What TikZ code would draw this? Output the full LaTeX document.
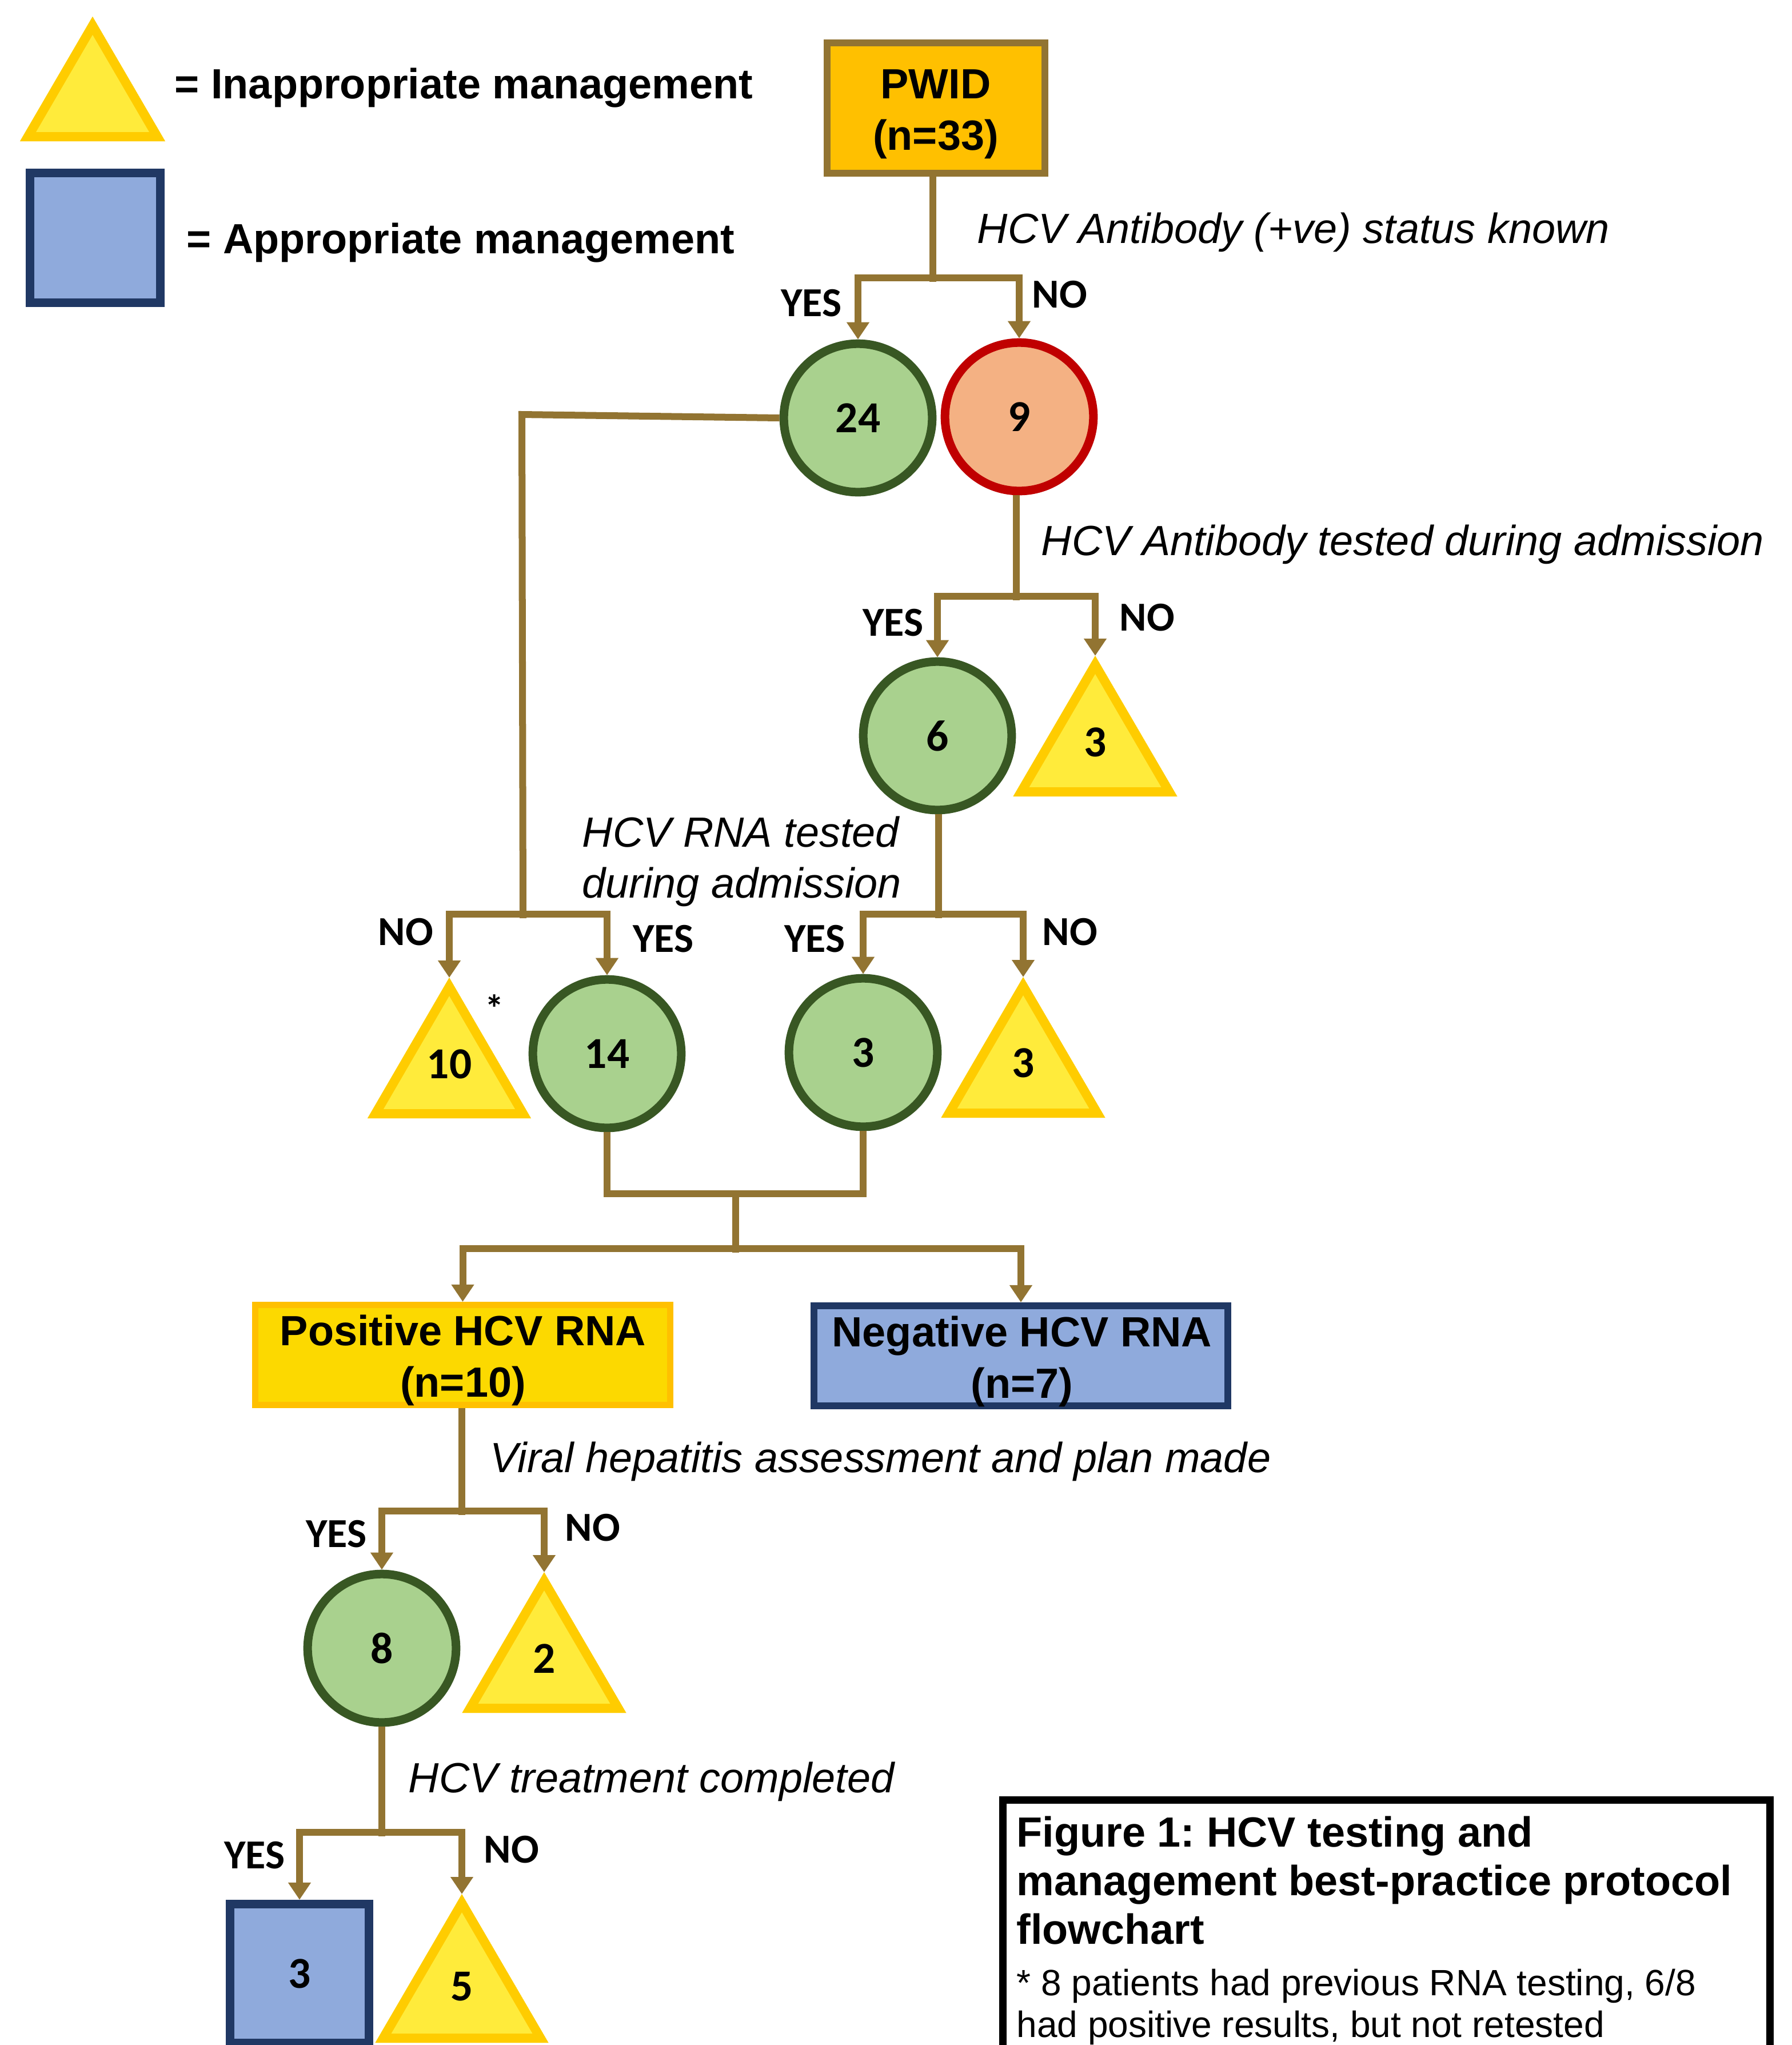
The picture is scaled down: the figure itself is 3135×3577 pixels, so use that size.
\documentclass[tikz,border=0pt]{standalone}
\usepackage{fontspec}
\setmainfont{Liberation Sans}
\newfontfamily\calfont{Carlito}
\usetikzlibrary{arrows.meta}
\frenchspacing
\definecolor{brn}{RGB}{146,116,50}
\definecolor{gfill}{RGB}{169,209,142}
\definecolor{gline}{RGB}{56,87,35}
\definecolor{rline}{RGB}{192,0,0}
\definecolor{rfill}{RGB}{244,177,131}
\definecolor{yfill}{RGB}{255,235,59}
\definecolor{yline}{RGB}{255,204,0}
\definecolor{orfill}{RGB}{255,192,0}
\definecolor{posfill}{RGB}{252,217,0}
\definecolor{bfill}{RGB}{143,170,220}
\definecolor{bline}{RGB}{32,56,100}
\newcommand{\bigbold}{\fontsize{21}{25}\selectfont\bfseries}
\newcommand{\bigital}{\fontsize{21}{25}\selectfont\itshape}
\newcommand{\smallreg}{\fontsize{18.2}{21}\selectfont}
\newcommand{\numfont}{\calfont\bfseries\fontsize{22}{26}\selectfont}
\newcommand{\ynfont}{\calfont\bfseries\fontsize{20.5}{24}\selectfont}
\newcommand{\astfont}{\calfont\bfseries\fontsize{19}{22}\selectfont}
% triangle with inside border: name, apex x, apex y, half width, height
\newcommand{\mytri}[5]{%
  \coordinate (#1) at (#2,#3);
  \begin{scope}
    \clip (#2,#3) -- ++(-#4,#5) -- ++({2*#4},0) -- cycle;
    \fill[yfill] (#2,#3) -- ++(-#4,#5) -- ++({2*#4},0) -- cycle;
    \draw[yline, line width=0.32cm] (#2,#3) -- ++(-#4,#5) -- ++({2*#4},0) -- cycle;
  \end{scope}}
\begin{document}
\begin{tikzpicture}[x=0.01cm,y=-0.01cm,
  conn/.style={draw=brn, line width=0.12cm},
  arr/.style={conn, -{Triangle[length=0.3cm,width=0.38cm]}},
  gcirc/.style={circle, draw=gline, fill=gfill, line width=0.15cm, minimum size=2.595cm, inner sep=0pt, font=\numfont},
  rcirc/.style={gcirc, draw=rline, fill=rfill},
  bt/.style={font=\bigbold, inner sep=0pt},
  it/.style={font=\bigital, inner sep=0pt, anchor=base west},
  yn/.style={font=\ynfont, inner sep=0pt, anchor=base},
  numtxt/.style={font=\numfont, inner sep=0pt},
  bluebox/.style={draw=bline, fill=bfill, line width=0.12cm, inner sep=0pt}
]
\fill[white] (0,0) rectangle (3135,3577);
\useasboundingbox (0,0) rectangle (3135,3577);
\clip (0,0) rectangle (3135,3577);

% ---------- legend ----------
\mytri{legtri}{162}{29}{127}{218}
\node[bt, anchor=base west] (leg1) at (305,172) {= Inappropriate management};
\node[bluebox, line width=0.15cm, minimum width=2.28cm, minimum height=2.27cm] (legsq) at (166.5,416) {};
\node[bt, anchor=base west] (leg2) at (326,443) {= Appropriate management};

% ---------- shapes ----------
\node[draw=brn, fill=orfill, line width=0.12cm, minimum width=3.81cm, minimum height=2.28cm, inner sep=0pt] (pwid) at (1637.5,189) {};
\node[bt, anchor=base] (pwid1) at (1637,172) {PWID};
\node[bt, anchor=base] (pwid2) at (1637,262) {(n=33)};

\node[gcirc] (c24) at (1501,731) {24};
\node[rcirc] (c9) at (1783,729) {9};
\node[gcirc] (c6) at (1640,1287) {6};
\mytri{t3a}{1916}{1147}{143.5}{246}
\node[numtxt] (t3alab) at (1916,1298) {3};

\mytri{t10}{786}{1710}{143}{246}
\node[numtxt] (t10lab) at (786,1861) {10};
\node[font=\astfont, inner sep=0pt] (ast) at (865,1764) {*};
\node[gcirc] (c14) at (1062,1843) {14};
\node[gcirc] (c3) at (1510,1841) {3};
\mytri{t3b}{1790}{1709}{143.5}{246}
\node[numtxt] (t3blab) at (1790,1859) {3};

\node[draw=orfill, fill=posfill, line width=0.11cm, minimum width=7.26cm, minimum height=1.75cm, inner sep=0pt] (pos) at (809.5,2370) {};
\node[bt, anchor=base] (pos1) at (810,2353) {Positive HCV RNA};
\node[bt, anchor=base] (pos2) at (810,2443) {(n=10)};
\node[bluebox, minimum width=7.24cm, minimum height=1.75cm] (neg) at (1786,2371.5) {};
\node[bt, anchor=base] (neg1) at (1788,2355) {Negative HCV RNA};
\node[bt, anchor=base] (neg2) at (1788,2445) {(n=7)};

\node[gcirc] (c8) at (668,2883) {8};
\mytri{t2}{952}{2750}{143.5}{246}
\node[numtxt] (t2lab) at (952,2901) {2};

\node[bluebox, line width=0.15cm, minimum width=2.43cm, minimum height=2.43cm, font=\numfont] (sq) at (524,3452) {3};
\mytri{t5}{808}{3313}{151.5}{260}
\node[numtxt] (t5lab) at (808,3475) {5};

% ---------- connectors ----------
\coordinate (j1) at (1632,486);
\draw[conn] (pwid.south -| j1) -- (j1) -- ++(0,7);
\draw[arr] (j1) -| (c24.north);
\draw[arr] (j1) -| (c9.north);

\coordinate (k1) at (913,725);
\coordinate (j3) at (915,1599);
\draw[conn] (c24.west) -- (k1) -- (j3) -- ++(0,7);
\draw[arr] (j3) -| (t10);
\draw[arr] (j3) -| (c14.north);

\coordinate (j2) at (1778,1043);
\draw[conn] (c9.south -| j2) -- (j2) -- ++(0,7);
\draw[arr] (j2) -| (c6.north);
\draw[arr] (j2) -| (t3a);

\coordinate (j4) at (1642,1599);
\draw[conn] (c6.south -| j4) -- (j4) -- ++(0,7);
\draw[arr] (j4) -| (c3.north);
\draw[arr] (j4) -| (t3b);

\coordinate (j5) at (1287,2088);
\coordinate (j6) at (1287,2184);
\draw[conn] (c14.south) |- (j5) -| (c3.south);
\draw[conn] (j5) -- (j6) -- ++(0,7);
\draw[arr] (j6) -| (pos.north);
\draw[arr] (j6) -| (neg.north);

\coordinate (j7) at (808,2643);
\draw[conn] (pos.south -| j7) -- (j7) -- ++(0,7);
\draw[arr] (j7) -| (c8.north);
\draw[arr] (j7) -| (t2);

\coordinate (j8) at (668,3205);
\draw[conn] (c8.south) -- (j8) -- ++(0,7);
\draw[arr] (j8) -| (sq.north);
\draw[arr] (j8) -| (t5);

% ---------- labels ----------
\node[it] (q1) at (1709,425) {HCV Antibody (+ve) status known};
\node[yn] (y1) at (1419,553) {YES};
\node[yn] (n1) at (1854,538) {NO};

\node[it] (q2) at (1821,971) {HCV Antibody tested during admission};
\node[yn] (y2) at (1562,1112) {YES};
\node[yn] (n2) at (2007,1103) {NO};

\node[it] (q3a) at (1018,1481) {HCV RNA tested};
\node[it] (q3b) at (1018,1570) {during admission};
\node[yn] (n3) at (710,1653) {NO};
\node[yn] (y3) at (1160,1665) {YES};
\node[yn] (y4) at (1425,1665) {YES};
\node[yn] (n4) at (1872,1653) {NO};

\node[it] (q4) at (857,2575) {Viral hepatitis assessment and plan made};
\node[yn] (y5) at (588,2706) {YES};
\node[yn] (n5) at (1037,2695) {NO};

\node[it] (q5) at (714,3135) {HCV treatment completed};
\node[yn] (y6) at (445,3268) {YES};
\node[yn] (n6) at (895,3258) {NO};

% ---------- caption ----------
\node[draw=black, line width=0.13cm, minimum width=13.41cm, minimum height=5cm, anchor=north west, inner sep=0pt] (cap) at (1748,3142) {};
\node[bt, anchor=base west] (cap1) at (1778,3230) {Figure 1: HCV testing and};
\node[bt, anchor=base west] (cap2) at (1778,3315) {management best-practice protocol};
\node[bt, anchor=base west] (cap3) at (1778,3400) {flowchart};
\node[font=\smallreg, inner sep=0pt, anchor=base west] (cap4) at (1778,3490) {* 8 patients had previous RNA testing, 6/8};
\node[font=\smallreg, inner sep=0pt, anchor=base west] (cap5) at (1778,3563) {had positive results, but not retested};
\end{tikzpicture}
\end{document}
